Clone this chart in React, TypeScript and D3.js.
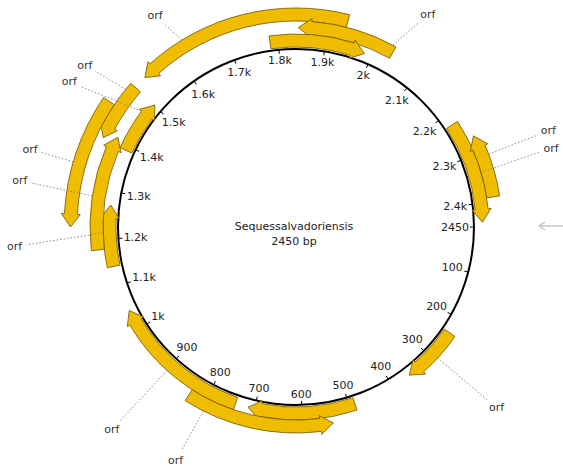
import React from "react";
import * as d3 from "d3";

// plasmid map data
const seqName = "Sequessalvadoriensis";
const seqLength = 2450;
const tickValues = d3.range(0, 2500, 100).filter((v) => v < seqLength);
const tickLabels = tickValues.map((v) => (v === 0 ? "2450" : v < 1000 ? String(v) : v / 1000 + "k"));

// orfs: start/end in bp, strand, track (0 = nearest to circle)
const orfStart = [1529, 1842, 1783, 2224, 2265, 235, 487, 539, 741, 1142, 1180, 1390, 1394, 1225];
const orfEnd = [1934, 2035, 1984, 2440, 2391, 358, 714, 834, 1044, 1271, 1407, 1503, 1504, 1456];
const orfStrand = [-1, -1, 1, 1, -1, 1, 1, -1, 1, 1, 1, 1, -1, -1];
const orfTrack = [2, 1, 0, 0, 1, 0, 0, 1, 0, 0, 1, 0, 2, 3];
// label placement (bp angle, radius) and where the leader touches the orf (bp)
const orfLabelPos = [1608, 2054, null, 2333, 2308, 286, null, 798, 900, 1198, 1290, 1447, 1480, 1336];
const orfLabelR = [254, 250, null, 267, 270, 270, null, 263, 274, 282, 280, 269, 266, 277];
const orfAnchor = [1624, 2028, null, 2338, 2309, 291, null, 794, 898, 1213, 1284, 1476, 1490, 1336];

const W = 563;
const H = 473;
const cx = 296;
const cy = 227;
const R = 178;
const trackBase = 180;
const trackStep = 13;
const trackWidth = 13;
const headLen = 13;
const flare = 3;

const angle = d3.scaleLinear().domain([0, seqLength]).range([0, 2 * Math.PI]);
const pt = (r: number, a: number): [number, number] => [cx + r * Math.cos(a), cy + r * Math.sin(a)];

const charW: Record<string, number> = { ".": 0.32, k: 0.58 };
const textHalf = (s: string, size: number) =>
  (s.split("").reduce((acc, c) => acc + (charW[c] ?? 0.636), 0) * size) / 2;

// arc segment along radius ra from angle `from` to `to`
const seg = (ra: number, from: number, to: number) => {
  const [x, y] = pt(ra, to);
  const large = Math.abs(to - from) > Math.PI ? 1 : 0;
  const sweep = to > from ? 1 : 0;
  return `A${ra},${ra} 0 ${large} ${sweep} ${x},${y}`;
};

function arrowPath(start: number, end: number, strand: number, track: number) {
  const r0 = trackBase + track * trackStep;
  const r1 = r0 + trackWidth;
  const rm = (r0 + r1) / 2;
  const ha = headLen / rm;
  // tail = flat end, head = pointed end
  const tailA = strand > 0 ? angle(start) : angle(end);
  const tipA = strand > 0 ? angle(end) : angle(start);
  const b = strand > 0 ? tipA - ha : tipA + ha;
  const [sx, sy] = pt(r1, tailA);
  const f1 = pt(r1 + flare, b);
  const tip = pt(rm, tipA);
  const f0 = pt(r0 - flare, b);
  const i0 = pt(r0, b);
  return (
    `M${sx},${sy}` +
    seg(r1, tailA, b) +
    `L${f1[0]},${f1[1]}L${tip[0]},${tip[1]}L${f0[0]},${f0[1]}L${i0[0]},${i0[1]}` +
    seg(r0, b, tailA) +
    "Z"
  );
}

export default function App() {
  const font = "'DejaVu Sans', Verdana, sans-serif";
  return (
    <svg
      width={W}
      height={H}
      style={{ position: "absolute", left: 0, top: 0, background: "#fff" }}
      fontFamily={font}
    >
      {/* backbone */}
      <circle cx={cx} cy={cy} r={R} fill="none" stroke="#000" strokeWidth={2} />

      {/* ticks + labels */}
      {tickValues.map((v, i) => {
        const a = angle(v);
        const [x1, y1] = pt(R, a);
        const [x2, y2] = pt(R - 4, a);
        const lbl = tickLabels[i];
        const off = 5 + textHalf(lbl, 11) * Math.abs(Math.cos(a)) + 5 * Math.abs(Math.sin(a));
        const [tx, ty] = pt(R - off, a);
        return (
          <g key={v}>
            <line x1={x1} y1={y1} x2={x2} y2={y2} stroke="#000" strokeWidth={1} />
            <text x={tx} y={ty} fontSize={11} textAnchor="middle" dominantBaseline="central" fill="#222">
              {lbl}
            </text>
          </g>
        );
      })}

      {/* orfs */}
      {orfStart.map((s, i) => (
        <path
          key={"orf" + i}
          d={arrowPath(s, orfEnd[i], orfStrand[i], orfTrack[i])}
          fill="#f0bc00"
          stroke="#6e5400"
          strokeWidth={0.8}
        />
      ))}

      {/* leaders + orf labels */}
      {orfStart.map((s, i) => {
        const lp = orfLabelPos[i];
        const lr = orfLabelR[i];
        const an = orfAnchor[i];
        if (lp == null || lr == null || an == null) return null;
        const ra = trackBase + orfTrack[i] * trackStep + trackWidth;
        const [ax, ay] = pt(ra, angle(an));
        const [lx, ly] = pt(lr, angle(lp));
        const dx = lx - ax;
        const dy = ly - ay;
        const len = Math.hypot(dx, dy);
        const ex = lx - (dx / len) * 12;
        const ey = ly - (dy / len) * 12;
        return (
          <g key={"lbl" + i}>
            <line x1={ax} y1={ay} x2={ex} y2={ey} stroke="#888" strokeWidth={1} strokeDasharray="1.5,2" />
            <text x={lx} y={ly} fontSize={11} textAnchor="middle" dominantBaseline="central" fill="#333">
              orf
            </text>
          </g>
        );
      })}

      {/* centre title */}
      <text x={cx - 2} y={cy + 3} fontSize={11} textAnchor="middle" fill="#222">
        {seqName}
      </text>
      <text x={cx - 2} y={cy + 18} fontSize={11} textAnchor="middle" fill="#222">
        {seqLength} bp
      </text>

      {/* origin pointer */}
      <line x1={540} y1={226} x2={563} y2={226} stroke="#bbb" strokeWidth={1.2} />
      <path d="M539,226 L545,222 M539,226 L545,230" stroke="#bbb" strokeWidth={1.2} fill="none" />
    </svg>
  );
}
